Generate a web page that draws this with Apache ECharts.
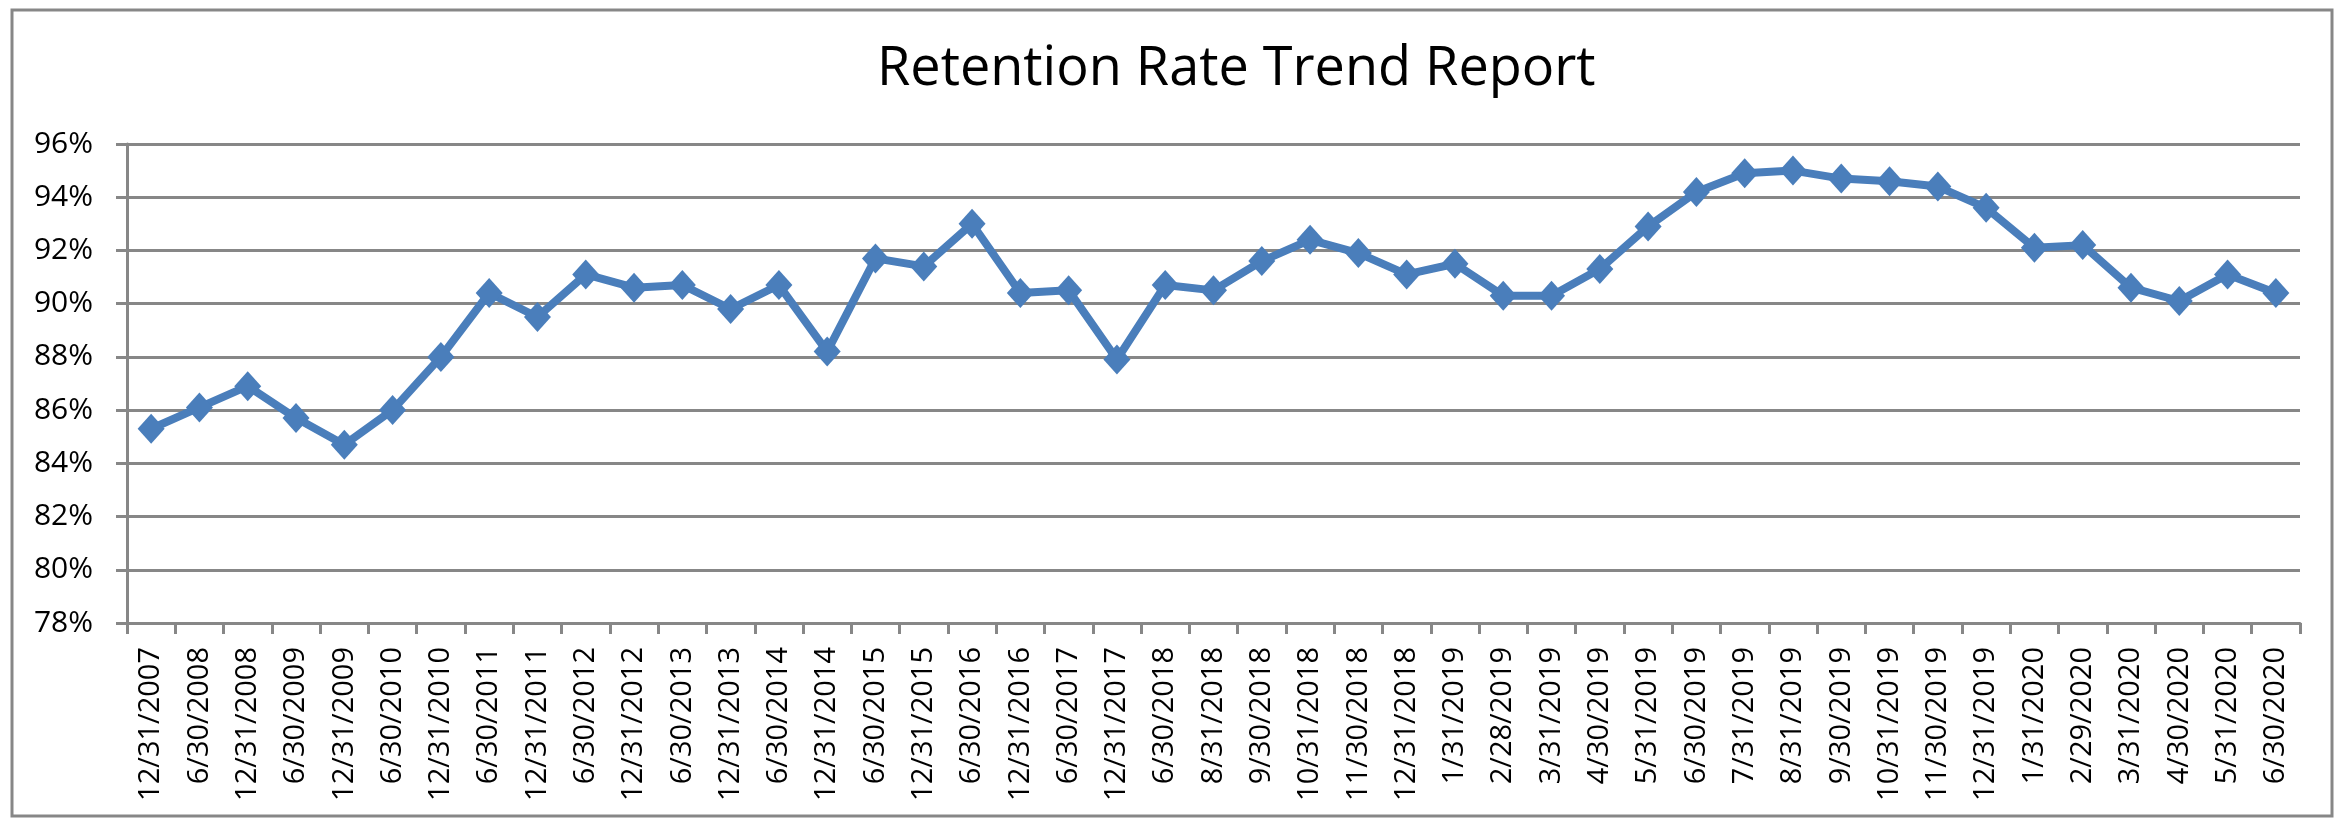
<!DOCTYPE html>
<html>
<head>
<meta charset="utf-8">
<script src="https://cdn.jsdelivr.net/npm/echarts@6/dist/echarts.min.js"></script>
<style>
html,body{margin:0;padding:0;background:#fff;}
#chart{width:2341px;height:823px;}
</style>
</head>
<body>
<div id="chart"></div>
<script>
const categories = [
  "12/31/2007","6/30/2008","12/31/2008","6/30/2009","12/31/2009","6/30/2010","12/31/2010",
  "6/30/2011","12/31/2011","6/30/2012","12/31/2012","6/30/2013","12/31/2013","6/30/2014",
  "12/31/2014","6/30/2015","12/31/2015","6/30/2016","12/31/2016","6/30/2017","12/31/2017",
  "6/30/2018","8/31/2018","9/30/2018","10/31/2018","11/30/2018","12/31/2018",
  "1/31/2019","2/28/2019","3/31/2019","4/30/2019","5/31/2019","6/30/2019","7/31/2019",
  "8/31/2019","9/30/2019","10/31/2019","11/30/2019","12/31/2019",
  "1/31/2020","2/29/2020","3/31/2020","4/30/2020","5/31/2020","6/30/2020"
];
const retentionRate = [
  85.3, 86.1, 86.9, 85.7, 84.7, 86.0, 88.0,
  90.4, 89.5, 91.1, 90.6, 90.7, 89.8, 90.7,
  88.2, 91.7, 91.4, 93.0, 90.4, 90.5, 87.9,
  90.7, 90.5, 91.6, 92.4, 91.9, 91.1,
  91.5, 90.3, 90.3, 91.3, 92.9, 94.2, 94.9,
  95.0, 94.7, 94.6, 94.4, 93.6,
  92.1, 92.2, 90.6, 90.1, 91.1, 90.4
];
const titleText = "Retention Rate Trend Report";
const yMin = 78, yMax = 96, yStep = 2;

const chart = echarts.init(document.getElementById('chart'));
const gray = '#878787';
chart.setOption({
  animation: false,
  backgroundColor: '#ffffff',
  title: {
    text: titleText,
    left: 872,
    top: 38,
    textStyle: {
      fontFamily: "'Open Sans', sans-serif",
      fontSize: 54,
      fontWeight: 'normal',
      color: '#000'
    }
  },
  graphic: [{
    type: 'rect',
    shape: {x: 12, y: 10, width: 2320, height: 806},
    style: {fill: 'none', stroke: gray, lineWidth: 3},
    silent: true
  }],
  grid: {left: 127, right: 41, top: 144, bottom: 200, containLabel: false},
  xAxis: {
    type: 'category',
    data: categories,
    boundaryGap: true,
    axisLine: {lineStyle: {color: gray, width: 3}},
    axisTick: {show: true, alignWithLabel: false, length: 11, lineStyle: {color: gray, width: 3}},
    axisLabel: {
      rotate: 90,
      interval: 0,
      margin: 24,
      fontFamily: "'Open Sans', sans-serif",
      fontSize: 29,
      color: '#000'
    }
  },
  yAxis: {
    type: 'value',
    min: yMin,
    max: yMax,
    interval: yStep,
    axisLine: {show: true, lineStyle: {color: gray, width: 3}},
    axisTick: {show: true, length: 11, lineStyle: {color: gray, width: 3}},
    axisLabel: {
      formatter: v => v + '%',
      margin: 34,
      fontFamily: "'Open Sans', sans-serif",
      fontSize: 30,
      color: '#000'
    },
    splitLine: {show: true, lineStyle: {color: gray, width: 3}}
  },
  series: [{
    type: 'line',
    data: retentionRate,
    symbol: 'diamond',
    symbolSize: [27, 30],
    lineStyle: {color: '#4A7EBB', width: 8},
    itemStyle: {color: '#4A7EBB'},
    z: 5
  }]
});
</script>
</body>
</html>
